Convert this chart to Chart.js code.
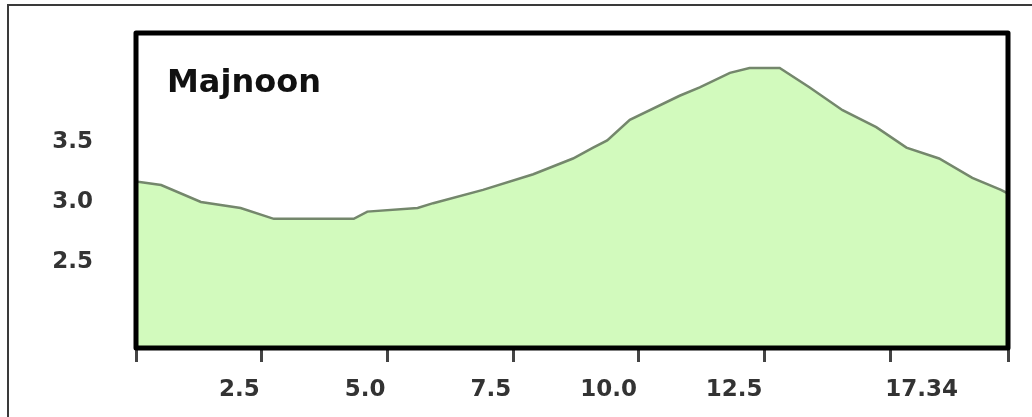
<!DOCTYPE html>
<html lang="en">
<head>
  <meta charset="UTF-8" />
  <title>Majnoon</title>
  <script src="https://cdn.jsdelivr.net/npm/chart.js@4.4.0/dist/chart.umd.min.js"></script>
  <style>
    body {
      margin: 0;
      background: #fff;
    }
    .outer {
      position: absolute;
      left: 7px;
      top: 4px;
      right: 0;
      bottom: 0;
      border-left: 2px solid #3a3a3a;
      border-top: 2px solid #3a3a3a;
    }
    .wrap {
      position: absolute;
      left: 0;
      top: 0;
      width: 1032px;
      height: 417px;
    }
  </style>
</head>
<body>
  <div class="outer"></div>
  <div class="wrap"><canvas id="profile"></canvas></div>

  <script>
    // profile values
    const distance = [0, 0.5, 1.29, 2.08, 2.74, 4.33, 4.6, 5.6, 5.91, 6.9, 7.9, 8.69, 9.09, 9.37, 9.82,
                      10.81, 11.21, 11.81, 12.2, 12.8, 13.39, 14.05, 14.72, 15.32, 15.97, 16.63, 17.2, 17.34];
    const level = [3.17, 3.14, 3.0, 2.95, 2.86, 2.86, 2.92, 2.95, 2.99, 3.1, 3.23, 3.36, 3.45, 3.51, 3.68,
                   3.88, 3.95, 4.07, 4.11, 4.11, 3.95, 3.76, 3.62, 3.45, 3.36, 3.2, 3.1, 3.07];
    const xTicks = [0, 2.5, 5, 7.5, 10, 12.5, 15, 17.34];
    const xTickLabels = ['', '2.5', '5.0', '7.5', '10.0', '12.5', '17.34', ''];
    const yTicks = [2.5, 3.0, 3.5];
    const chartTitle = 'Majnoon';

    const labelFont = 'bold 23px "DejaVu Sans"';

    // thick frame, x labels and the title inside the plot
    const framePlugin = {
      id: 'frame',
      afterDraw(chart) {
        const { ctx, chartArea: a, scales: { x } } = chart;
        ctx.save();
        ctx.strokeStyle = '#000';
        ctx.lineWidth = 5;
        ctx.lineJoin = 'round';
        ctx.strokeRect(a.left, a.top, a.right - a.left, a.bottom - a.top);

        ctx.font = labelFont;
        ctx.fillStyle = '#333';
        ctx.textBaseline = 'alphabetic';
        xTicks.forEach((v, i) => {
          const lbl = xTickLabels[i];
          if (!lbl) return;
          const px = x.getPixelForValue(v);
          if (i === xTicks.length - 2) {
            ctx.textAlign = 'left';
            ctx.fillText(lbl, px - 5, a.bottom + 48);
          } else {
            ctx.textAlign = 'right';
            ctx.fillText(lbl, px - 2, a.bottom + 48);
          }
        });

        ctx.font = 'bold 32px "DejaVu Sans"';
        ctx.fillStyle = '#111';
        ctx.textAlign = 'left';
        ctx.fillText(chartTitle, a.left + 31, a.top + 59);
        ctx.restore();
      }
    };

    new Chart(document.getElementById('profile'), {
      type: 'line',
      data: {
        datasets: [{
          data: distance.map((d, i) => ({ x: d, y: level[i] })),
          borderColor: '#74876c',
          borderWidth: 2.5,
          backgroundColor: '#d2fabd',
          fill: 'start',
          pointRadius: 0,
          tension: 0
        }]
      },
      options: {
        responsive: true,
        maintainAspectRatio: false,
        animation: false,
        layout: { padding: { top: 33, right: 24, left: 0, bottom: 0 } },
        plugins: {
          legend: { display: false },
          tooltip: { enabled: false }
        },
        scales: {
          x: {
            type: 'linear',
            min: 0,
            max: 17.34,
            afterBuildTicks: s => { s.ticks = xTicks.map(v => ({ value: v })); },
            afterFit: s => { s.height = 69; s.paddingLeft = 0; s.paddingRight = 0; },
            grid: {
              drawOnChartArea: false,
              tickLength: 14,
              lineWidth: 3,
              color: '#444'
            },
            border: { display: false },
            ticks: { display: false }
          },
          y: {
            min: 1.79,
            max: 4.4,
            afterBuildTicks: s => { s.ticks = yTicks.map(v => ({ value: v })); },
            afterFit: s => { s.width = 136; s.paddingTop = 0; s.paddingBottom = 0; },
            grid: { display: false, drawTicks: false },
            border: { display: false },
            ticks: {
              padding: 43,
              color: '#333',
              font: { family: 'DejaVu Sans', size: 23, weight: 'bold' },
              callback: v => v.toFixed(1)
            }
          }
        }
      },
      plugins: [framePlugin]
    });
  </script>
</body>
</html>
